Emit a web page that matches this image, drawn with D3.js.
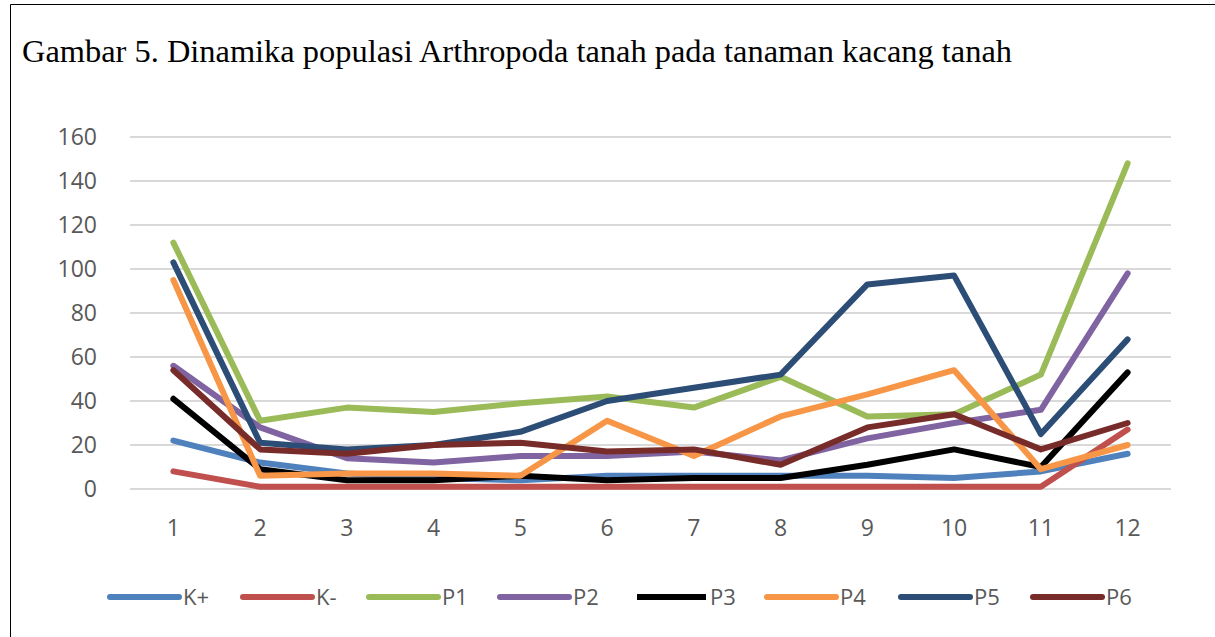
<!DOCTYPE html>
<html>
<head>
<meta charset="utf-8">
<script src="https://cdn.jsdelivr.net/npm/d3@7"></script>
<style>
  body { margin: 0; background: #fff; }
  svg { display: block; }
</style>
</head>
<body>
<svg id="chart" width="1215" height="637"></svg>
<script>
//----------DATA----------
var categories = ['1','2','3','4','5','6','7','8','9','10','11','12'];
var seriesNames = ['K+','K-','P1','P2','P3','P4','P5','P6'];
var kPlus  = [22, 12, 7, 5, 4, 6, 6, 6, 6, 5, 8, 16];
var kMinus = [8, 1, 1, 1, 1, 1, 1, 1, 1, 1, 1, 27];
var p1 = [112, 31, 37, 35, 39, 42, 37, 51, 33, 34, 52, 148];
var p2 = [56, 28, 14, 12, 15, 15, 17, 13, 23, 30, 36, 98];
var p3 = [41, 9, 4, 4, 6, 4, 5, 5, 11, 18, 10, 53];
var p4 = [95, 6, 7, 7, 6, 31, 15, 33, 43, 54, 9, 20];
var p5 = [103, 21, 18, 20, 26, 40, 46, 52, 93, 97, 25, 68];
var p6 = [54, 18, 16, 20, 21, 17, 18, 11, 28, 34, 18, 30];
var yTicks = [0, 20, 40, 60, 80, 100, 120, 140, 160];
var colors = ['#4f81bd','#c0504d','#9bbb59','#8064a2','#000000','#f79646','#2c4d75','#772c2a'];

var seriesValues = [kPlus, kMinus, p1, p2, p3, p4, p5, p6];

//----------SETUP----------
var svg = d3.select('#chart');
var width = 1215, height = 637;
var plot = {left: 130, right: 1171, top: 137, bottom: 489};

// frame (top and left edges only, as in the scan)
svg.append('line').attr('x1', 10.5).attr('y1', 4.5).attr('x2', width).attr('y2', 4.5)
    .attr('stroke', '#000').attr('stroke-width', 1);
svg.append('line').attr('x1', 10.5).attr('y1', 4.5).attr('x2', 10.5).attr('y2', height)
    .attr('stroke', '#000').attr('stroke-width', 1);

svg.append('text')
    .attr('x', 22)
    .attr('y', 62)
    .attr('font-family', '"Liberation Serif", "Times New Roman", serif')
    .attr('font-size', 32)
    .attr('textLength', 990)
    .attr('lengthAdjust', 'spacingAndGlyphs')
    .attr('fill', '#000')
    .text('Gambar 5. Dinamika populasi Arthropoda tanah pada tanaman kacang tanah');

var x = d3.scaleBand()
    .domain(categories)
    .range([plot.left, plot.right]);

var y = d3.scaleLinear()
    .domain([0, 160])
    .range([plot.bottom, plot.top]);

//----------GRID AND AXES----------
svg.append('g')
    .selectAll('line')
    .data(yTicks)
    .enter()
    .append('line')
    .attr('x1', plot.left)
    .attr('x2', plot.right)
    .attr('y1', function(d) {return y(d);})
    .attr('y2', function(d) {return y(d);})
    .attr('stroke', '#d9d9d9')
    .attr('stroke-width', 2);

var yAxis = svg.append('g')
    .attr('transform', 'translate(' + plot.left + ',0)')
    .call(d3.axisLeft(y).tickValues(yTicks).tickSize(0).tickPadding(33));
yAxis.select('.domain').remove();
yAxis.selectAll('text')
    .attr('font-family', '"Open Sans", sans-serif')
    .attr('font-size', 23)
    .attr('fill', '#595959');

var xAxis = svg.append('g')
    .attr('transform', 'translate(0,' + plot.bottom + ')')
    .call(d3.axisBottom(x).tickSize(0).tickPadding(31));
xAxis.select('.domain').remove();
xAxis.selectAll('text')
    .attr('font-family', '"Open Sans", sans-serif')
    .attr('font-size', 23)
    .attr('fill', '#595959');

//----------LINES----------
var line = d3.line()
    .x(function(d, i) {return x(categories[i]) + x.bandwidth() / 2;})
    .y(function(d) {return y(d);});

svg.append('g')
    .selectAll('path')
    .data(seriesValues)
    .enter()
    .append('path')
    .attr('d', function(d) {return line(d);})
    .attr('fill', 'none')
    .attr('stroke', function(d, i) {return colors[i];})
    .attr('stroke-width', 6)
    .attr('stroke-linejoin', 'round')
    .attr('stroke-linecap', 'round');

//----------LEGEND----------
var legendX = [107, 240, 366, 497, 634, 764, 898, 1030];
var legendY = 597;
var legend = svg.append('g')
    .selectAll('g')
    .data(seriesNames)
    .enter()
    .append('g')
    .attr('transform', function(d, i) {return 'translate(' + legendX[i] + ',' + legendY + ')';});

legend.append('line')
    .attr('x1', 3).attr('x2', 72)
    .attr('y1', 0).attr('y2', 0)
    .attr('stroke', function(d, i) {return colors[i];})
    .attr('stroke-width', 6)
    .attr('stroke-linecap', function(d, i) {return i === 4 ? 'butt' : 'round';});

legend.append('text')
    .attr('x', 76)
    .attr('y', 8)
    .attr('font-family', '"Open Sans", sans-serif')
    .attr('font-size', 22)
    .attr('fill', '#595959')
    .text(function(d) {return d;});
</script>
</body>
</html>
